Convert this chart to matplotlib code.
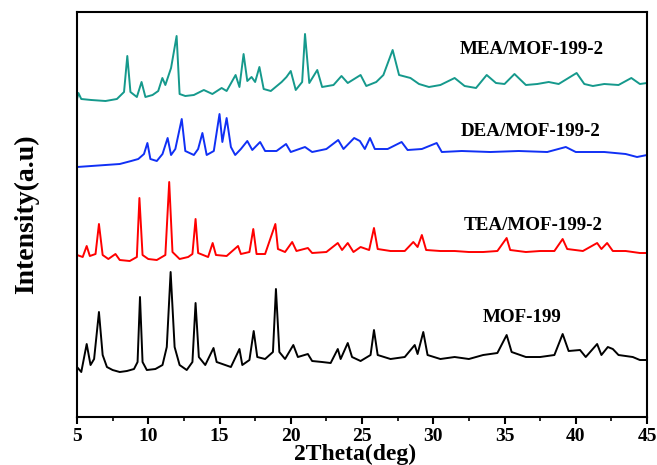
import matplotlib
matplotlib.use('Agg')
import matplotlib.pyplot as plt
from matplotlib.ticker import MultipleLocator

# values (2theta in deg, intensity in arbitrary units, offsets included)
mof_x = [5.0, 5.3, 5.68, 5.95, 6.2, 6.54, 6.8, 7.1, 7.5, 8.0, 8.5, 9.0, 9.25, 9.42, 9.6, 9.9,
         10.5, 11.0, 11.3, 11.57, 11.85, 12.2, 12.7, 13.1, 13.32, 13.55, 14.0, 14.58, 14.8, 15.2,
         15.8, 16.4, 16.6, 17.1, 17.4, 17.65, 18.2, 18.75, 18.96, 19.2, 19.6, 20.18, 20.5, 21.2,
         21.5, 22.2, 22.8, 23.3, 23.5, 24.0, 24.3, 24.9, 25.6, 25.84, 26.1, 27.0, 28.0, 28.7,
         28.9, 29.3, 29.6, 30.5, 31.5, 32.5, 33.5, 34.5, 35.15, 35.5, 36.5, 37.5, 38.5, 39.08,
         39.5, 40.3, 40.7, 41.5, 41.8, 42.25, 42.6, 43.0, 44.0, 44.5, 45.0]
mof_y = [50, 45, 73, 52, 58, 105, 62, 50, 47, 45, 46, 48, 55, 120, 55, 47,
         48, 52, 70, 145, 70, 52, 47, 55, 114, 60, 52, 69, 55, 53,
         50, 68, 52, 57, 86, 60, 58, 65, 128, 65, 58, 72, 60, 63,
         56, 55, 54, 68, 58, 74, 60, 56, 62, 87, 62, 58, 60, 72,
         63, 85, 62, 58, 60, 58, 62, 64, 82, 65, 60, 60, 62, 83,
         66, 67, 60, 73, 62, 70, 68, 62, 60, 57, 57]

tea_x = [5.0, 5.4, 5.68, 5.9, 6.3, 6.54, 6.8, 7.2, 7.7, 8.0, 8.7, 9.2, 9.38, 9.6, 10.0, 10.6,
         11.2, 11.47, 11.7, 12.2, 12.8, 13.1, 13.32, 13.5, 14.2, 14.52, 14.75, 15.5, 16.3, 16.5,
         17.1, 17.37, 17.6, 18.2, 18.92, 19.1, 19.6, 20.1, 20.4, 21.2, 21.5, 22.5, 23.3, 23.6,
         24.0, 24.4, 24.9, 25.5, 25.84, 26.1, 27.0, 28.0, 28.6, 28.9, 29.2, 29.5, 30.5, 31.5,
         32.5, 33.5, 34.5, 35.15, 35.4, 36.5, 37.5, 38.5, 39.08, 39.4, 40.5, 41.5, 41.8, 42.2,
         42.6, 43.5, 44.5, 45.0]
tea_y = [162, 160, 171, 161, 163, 193, 162, 158, 163, 157, 156, 160, 219, 162, 158, 157,
         162, 235, 165, 158, 160, 163, 198, 164, 160, 174, 162, 161, 171, 163,
         165, 188, 163, 163, 193, 168, 165, 175, 166, 169, 164, 165, 174, 167,
         174, 165, 170, 167, 189, 168, 166, 166, 175, 170, 182, 167, 166, 166,
         165, 165, 166, 179, 167, 165, 166, 166, 178, 168, 166, 174, 168, 174,
         166, 166, 164, 164]

dea_x = [5.0, 6.0, 7.0, 8.0, 8.8, 9.3, 9.7, 9.94, 10.15, 10.6, 11.0, 11.36, 11.6, 11.9, 12.35,
         12.6, 13.2, 13.5, 13.8, 14.1, 14.6, 15.0, 15.2, 15.5, 15.8, 16.1, 16.5, 16.95, 17.3,
         17.85, 18.2, 19.0, 19.67, 20.0, 21.0, 21.5, 22.5, 23.33, 23.7, 24.45, 24.85, 25.2,
         25.56, 25.9, 26.8, 27.78, 28.2, 29.2, 30.24, 30.6, 32.0, 34.0, 36.0, 38.0, 39.3, 40.0,
         42.0, 43.5, 44.3, 45.0]
dea_y = [250, 251, 252, 253, 256, 258, 263, 274, 258, 256, 263, 279, 262, 268, 298,
         266, 262, 268, 284, 262, 266, 303, 275, 299, 270, 262, 268, 276, 267,
         275, 266, 266, 273, 265, 270, 265, 268, 277, 268, 279, 276, 268,
         279, 268, 268, 275, 267, 268, 274, 265, 266, 265, 266, 265, 270, 265,
         265, 263, 260, 262]

mea_x = [5.0, 5.1, 5.3, 6.0, 7.0, 7.8, 8.3, 8.53, 8.75, 9.2, 9.53, 9.8, 10.3, 10.7, 10.99, 11.2,
         11.6, 11.99, 12.2, 12.6, 13.2, 13.9, 14.5, 15.15, 15.5, 16.13, 16.4, 16.69, 16.95,
         17.25, 17.5, 17.8, 18.1, 18.6, 19.36, 19.7, 20.0, 20.35, 20.8, 21.0, 21.3, 21.86, 22.2,
         23.0, 23.56, 24.0, 24.9, 25.3, 26.0, 26.5, 27.15, 27.6, 28.4, 29.0, 29.7, 30.5, 31.5,
         32.2, 33.0, 33.75, 34.4, 35.0, 35.7, 36.5, 37.3, 38.1, 38.8, 40.06, 40.6, 41.2, 42.0,
         43.0, 43.9, 44.5, 45.0]
mea_y = [318, 324, 318, 317, 316, 318, 325, 361, 325, 320, 335, 320, 322, 326, 339, 332,
         349, 381, 323, 321, 322, 327, 323, 329, 326, 342, 330, 363, 336,
         340, 335, 350, 328, 326, 335, 340, 346, 327, 335, 383, 334, 347, 330,
         332, 341, 334, 342, 331, 335, 342, 367, 342, 339, 333, 330, 332, 339,
         331, 329, 342, 334, 333, 343, 332, 333, 335, 333, 344, 333, 331, 333,
         332, 339, 333, 334]

names = ['MOF-199', 'TEA/MOF-199-2', 'DEA/MOF-199-2', 'MEA/MOF-199-2']
colors = ['black', '#ff0000', '#1030f5', '#15998c']
label_x = [36.2, 37.0, 36.8, 36.9]
label_y = [100, 192, 286, 367]

font = 'Liberation Serif'

fig = plt.figure(figsize=(6.57, 4.65), dpi=100)
ax = fig.add_axes([0.1172, 0.1032, 0.8676, 0.871])

traces = [(mof_x, mof_y), (tea_x, tea_y), (dea_x, dea_y), (mea_x, mea_y)]
for (xs, ys), c in zip(traces, colors):
    ax.plot(xs, ys, color=c, lw=1.4)

for name, lx, ly in zip(names, label_x, label_y):
    ax.text(lx, ly, name, ha='center', va='center', fontsize=13.7,
            fontweight='bold', family=font)

ax.set_xlim(5, 45)
ax.set_ylim(0, 405)
ax.set_yticks([])
ax.xaxis.set_major_locator(MultipleLocator(5))
ax.xaxis.set_minor_locator(MultipleLocator(2.5))
ax.tick_params(axis='x', which='major', direction='out', length=5, width=1.5, pad=3)
ax.tick_params(axis='x', which='minor', direction='out', length=3, width=1.2)
for lab in ax.get_xticklabels():
    lab.set_fontfamily(font)
    lab.set_fontweight('bold')
    lab.set_fontsize(14)
for sp in ax.spines.values():
    sp.set_linewidth(1.5)

ax.set_xlabel('2Theta(deg)', fontsize=17, fontweight='bold', family=font, labelpad=-1)
ax.xaxis.label.set_x(0.487)
ax.set_ylabel('Intensity(a.u)', fontsize=20, fontweight='bold', family=font, labelpad=27)

fig.savefig('out.png', dpi=100)
